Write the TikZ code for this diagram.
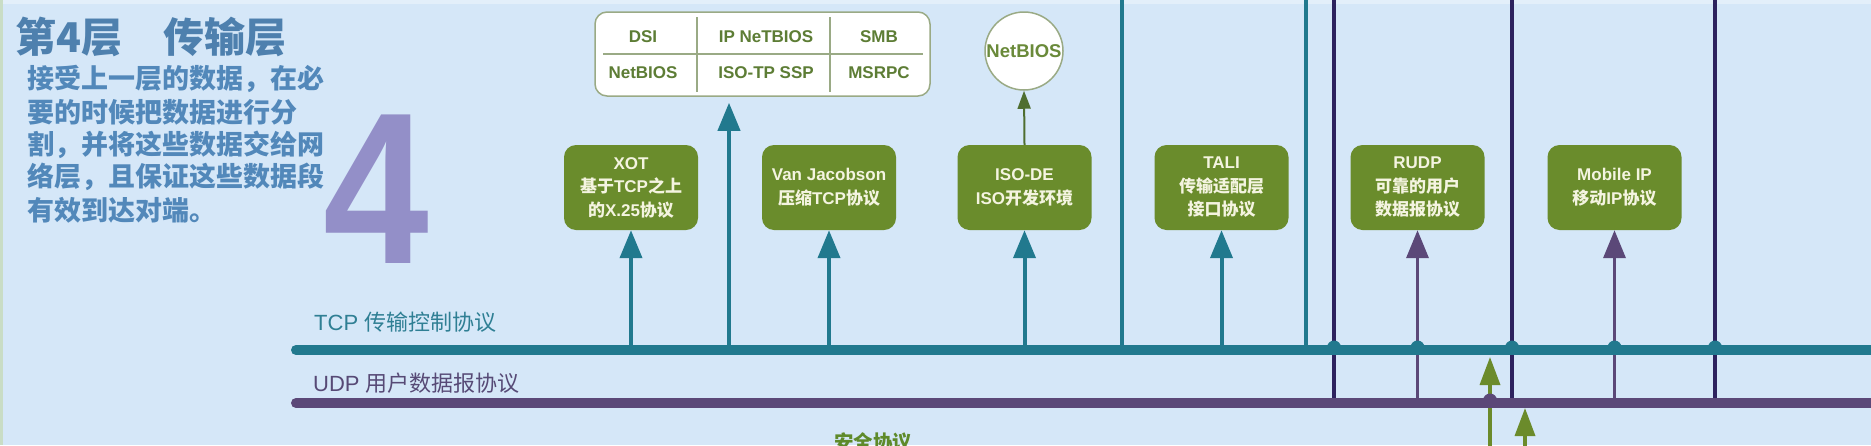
\documentclass[tikz,border=0pt]{standalone}
\usepackage{fontspec}
\setmainfont{Liberation Sans}
\newfontfamily\cjk{Noto Sans CJK SC}
\usetikzlibrary{arrows.meta}
\definecolor{bg}{HTML}{D5E7F8}
\definecolor{tealc}{HTML}{21798E}
\definecolor{udpc}{HTML}{5B4878}
\definecolor{indigo}{HTML}{2D225E}
\definecolor{boxgreen}{HTML}{6A8C2C}
\definecolor{boxtext}{HTML}{F4F4E0}
\definecolor{arrgreen}{HTML}{6B8B2B}
\definecolor{tblborder}{HTML}{9AAA85}
\definecolor{tbltext}{HTML}{5D7D35}
\definecolor{circtext}{HTML}{6A8A3A}
\definecolor{circarrow}{HTML}{4F6E30}
\definecolor{titleblue}{HTML}{4E80AE}
\definecolor{bodyblue}{HTML}{5288BA}
\definecolor{bigfour}{HTML}{938FC8}
\definecolor{tcplabel}{HTML}{2F7F94}
\definecolor{udplabel}{HTML}{574A76}
\definecolor{secgreen}{HTML}{5E8A2A}
\definecolor{edgegreen}{HTML}{C9DDC6}
\begin{document}
\begin{tikzpicture}[x=1pt,y=-1pt, every node/.style={inner sep=0pt},
  gbox/.style={rounded corners=12pt, fill=boxgreen, minimum width=134pt, minimum height=85pt,
    text=boxtext, font=\bfseries\fontsize{17}{23.5}\selectfont, align=center},
  tbltxt/.style={text=tbltext, font=\bfseries\fontsize{17}{17}\selectfont},
  bodyline/.style={anchor=west, text=bodyblue, font=\cjk\bfseries\fontsize{27}{32}\selectfont},
  titletxt/.style={anchor=west, text=titleblue, font=\cjk\bfseries\fontsize{41}{42}\selectfont},
  tarrow/.style={draw=tealc, line width=4pt, -{Triangle[width=22pt,length=28pt]}},
  parrow/.style={draw=udpc, line width=3.5pt, -{Triangle[width=22pt,length=28pt]}},
  garrow/.style={draw=arrgreen, line width=3.5pt, -{Triangle[width=20pt,length=28pt]}},
  tealvert/.style={draw=tealc, line width=4pt},
  indvert/.style={draw=indigo, line width=4pt},
  tcpline/.style={draw=tealc, line width=10pt, line cap=round},
  udpline/.style={draw=udpc, line width=10pt, line cap=round},
  divider/.style={draw=tblborder, line width=1.5pt}]
\useasboundingbox (0,0) rectangle (1871,445);
\fill[bg] (0,0) rectangle (1871,445);
\fill[white, opacity=0.35] (0,0) rectangle (1871,4);
\fill[edgegreen] (0,0) rectangle (3,445);

% key coordinates
\coordinate (top) at (0,-10);
\coordinate (tcpA) at (296,350);
\coordinate (tcpB) at (1885,350);
\coordinate (udpA) at (296,403);
\coordinate (udpB) at (1885,403);

% title and description
\node[titletxt] (t1) at (15,37) {第4层};
\node[titletxt] (t2) at (163,37) {传输层};
\node[bodyline] (l1) at (27,79) {接受上一层的数据，在必};
\node[bodyline] (l2) at (27,112) {要的时候把数据进行分};
\node[bodyline] (l3) at (27,145) {割，并将这些数据交给网};
\node[bodyline] (l4) at (27,177) {络层，且保证这些数据段};
\node[bodyline] (l5) at (27,210) {有效到达对端。};
\node[anchor=base, text=bigfour, xscale=0.88, font=\bfseries\fontsize{216}{216}\selectfont] (four) at (376,263) {4};

% line labels
\node[anchor=west, text=tcplabel, font=\fontsize{22}{22}\selectfont] (tcplab) at (314,322) {TCP {\cjk 传输控制协议}};
\node[anchor=west, text=udplabel, font=\fontsize{22}{22}\selectfont] (udplab) at (313,383) {UDP {\cjk 用户数据报协议}};
\node[anchor=north west, text=secgreen, font=\cjk\bfseries\fontsize{19.5}{20}\selectfont] (sec) at (834,432) {安全协议};

% table of upper protocols
\node[draw=tblborder, line width=1.5pt, fill=white, rounded corners=12pt, minimum width=335pt, minimum height=84pt] (tbl) at (762.5,54) {};
\draw[divider] (697,17) -- (697,92);
\draw[divider] (830,17) -- (830,92);
\draw[divider] (603,54) -- (923,54);
\node[tbltxt] (c11) at (643,37) {DSI};
\node[tbltxt] (c12) at (766,37) {IP NeTBIOS};
\node[tbltxt] (c13) at (879,37) {SMB};
\node[tbltxt] (c21) at (643,73) {NetBIOS};
\node[tbltxt] (c22) at (766,73) {ISO-TP SSP};
\node[tbltxt] (c23) at (879,73) {MSRPC};

% NetBIOS circle
\node[circle, draw=tblborder, line width=1.5pt, fill=white, minimum size=78pt] (nb) at (1024,51) {};
\node[text=circtext, font=\bfseries\fontsize{18.5}{18.5}\selectfont] (nbt) at (nb) {NetBIOS};

% protocol boxes
\node[gbox] (xot) at (631,187.5) {XOT\\{\cjk 基于}TCP{\cjk 之上}\\{\cjk 的}X.25{\cjk 协议}};
\node[gbox] (vj) at (829,187.5) {Van Jacobson\\{\cjk 压缩}TCP{\cjk 协议}};
\node[gbox] (isode) at (1024.5,187.5) {ISO-DE\\ISO{\cjk 开发环境}};
\node[gbox] (tali) at (1221.5,187.5) {TALI\\{\cjk 传输适配层}\\{\cjk 接口协议}};
\node[gbox] (rudp) at (1417.5,187.5) {RUDP\\{\cjk 可靠的用户}\\{\cjk 数据报协议}};
\node[gbox] (mip) at (1614.5,187.5) {Mobile IP\\{\cjk 移动}IP{\cjk 协议}};

\draw[draw=circarrow, line width=2pt, -{Triangle[width=13pt,length=18pt]}] (isode.north) -- (nb.south);

% vertical lines to the layers above
\coordinate (v1) at (1122,350);
\coordinate (v2) at (1306,350);
\coordinate (w1) at (1334,403);
\coordinate (w2) at (1512,403);
\coordinate (w3) at (1715,403);
\draw[tealvert] (v1) -- (v1 |- top);
\draw[tealvert] (v2) -- (v2 |- top);
\draw[indvert] (w1) -- (w1 |- top);
\draw[indvert] (w2) -- (w2 |- top);
\draw[indvert] (w3) -- (w3 |- top);

% UDP arrows
\draw[parrow] (rudp.south |- udpA) -- (rudp.south);
\draw[parrow] (mip.south |- udpA) -- (mip.south);

% arrows from below
\coordinate (g1) at (1490,455);
\coordinate (g1t) at (1490,357);
\coordinate (g2) at (1525,455);
\coordinate (g2t) at (1525,408);
\draw[garrow] (g1) -- (g1t);
\draw[garrow] (g2) -- (g2t);

% TCP and UDP lines
\draw[tcpline] (tcpA) -- (tcpB);
\foreach \xx in {1334,1417.5,1512,1614.5,1715} \fill[tealc] (\xx,347.5) circle (7pt);
\draw[udpline] (udpA) -- (udpB);
\fill[udpc] (1490,400.5) circle (7pt);

% TCP arrows
\coordinate (ta) at (729,350);
\draw[tarrow, shorten >=6pt] (ta) -- (ta |- tbl.south);
\draw[tarrow] (xot.south |- tcpA) -- (xot.south);
\draw[tarrow] (vj.south |- tcpA) -- (vj.south);
\draw[tarrow] (isode.south |- tcpA) -- (isode.south);
\draw[tarrow] (tali.south |- tcpA) -- (tali.south);
\end{tikzpicture}
\end{document}
